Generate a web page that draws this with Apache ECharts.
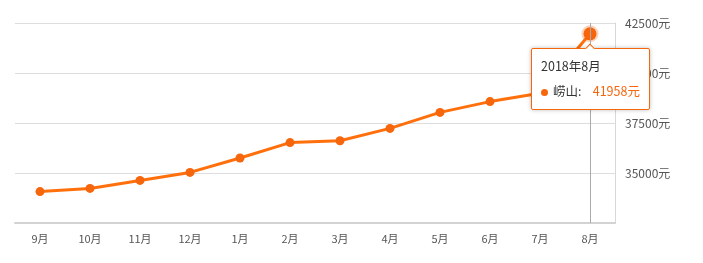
<!DOCTYPE html>
<html><head><meta charset="utf-8">
<script src="https://cdn.jsdelivr.net/npm/echarts@6/dist/echarts.min.js"></script>
<style>html,body{margin:0;padding:0;background:#fff}#c{width:703px;height:263px}</style>
</head><body><div id="c"></div>
<script>
var categories = ['9月','10月','11月','12月','1月','2月','3月','4月','5月','6月','7月','8月'];
var fullMonths = ['2017年9月','2017年10月','2017年11月','2017年12月','2018年1月','2018年2月','2018年3月','2018年4月','2018年5月','2018年6月','2018年7月','2018年8月'];
var seriesName = '崂山';
var prices = [34070, 34230, 34630, 35030, 35750, 36520, 36610, 37230, 38030, 38570, 38990, 41958];
var yTicks = [32500, 35000, 37500, 40000, 42500];

var chart = echarts.init(document.getElementById('c'));
var orange = '#f6660c';
chart.setOption({
  animation: false,
  textStyle: {fontFamily: '"Noto Sans CJK SC", "Microsoft YaHei", sans-serif'},
  grid: {left: 15, right: 88, top: 23, bottom: 40, containLabel: false},
  tooltip: {
    trigger: 'item',
    position: 'bottom',
    alwaysShowContent: true,
    backgroundColor: '#fff',
    borderColor: orange,
    borderWidth: 1,
    padding: [7, 9, 6, 9],
    extraCssText: 'box-shadow:0 0 4px rgba(0,0,0,0.25);border-radius:2px;',
    textStyle: {color: '#333', fontSize: 12},
    formatter: function (p) {
      return '<div style="line-height:20px;font-size:12.5px">' + fullMonths[p.dataIndex] + '</div>' +
        '<div style="line-height:24px;margin-top:3px;font-size:12.5px"><span style="display:inline-block;width:7px;height:7px;border-radius:50%;background:' + orange + ';margin-right:5px;vertical-align:middle"></span>' +
        p.seriesName + ':&nbsp;&nbsp;&nbsp;&nbsp;<span style="color:' + orange + '">' + p.value + '元</span></div>';
    }
  },
  xAxis: {
    type: 'category',
    data: categories,
    boundaryGap: true,
    axisLine: {lineStyle: {color: '#d3d3d3', width: 2}},
    axisTick: {alignWithLabel: true, length: 4, lineStyle: {color: '#ccc'}},
    axisLabel: {color: '#555', fontSize: 11, margin: 10},
    splitLine: {show: false},
    axisPointer: {
      show: true, value: '8月', status: 'show', type: 'line', triggerTooltip: false,
      snap: false,
      label: {show: false},
      lineStyle: {color: '#aaa', width: 1, type: 'solid'}
    }
  },
  yAxis: {
    type: 'value',
    position: 'right',
    min: yTicks[0], max: yTicks[yTicks.length - 1], interval: 2500,
    axisLine: {show: true, lineStyle: {color: '#d8d8d8', width: 1}},
    axisTick: {show: false},
    axisLabel: {color: '#555', fontSize: 12, margin: 10, showMinLabel: false,
      formatter: function (v) { return v + '元'; }},
    splitLine: {lineStyle: {color: '#ddd', width: 1}}
  },
  series: [{
    name: seriesName,
    type: 'line',
    data: prices,
    symbol: 'circle',
    symbolSize: 9,
    lineStyle: {color: orange, width: 3},
    itemStyle: {color: orange},
    emphasis: {
      scale: 1.45,
      itemStyle: {color: orange, borderColor: 'rgba(246,102,12,0.28)', borderWidth: 4}
    }
  }]
});
chart.dispatchAction({type: 'highlight', seriesIndex: 0, dataIndex: 11});
chart.dispatchAction({type: 'showTip', seriesIndex: 0, dataIndex: 11});
</script></body></html>
